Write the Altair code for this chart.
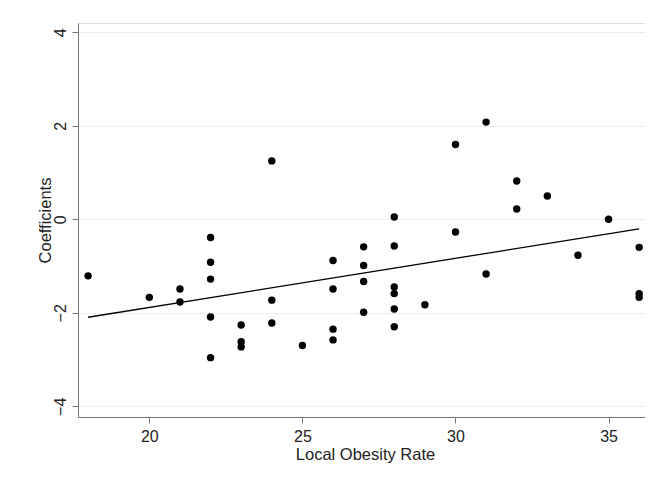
import altair as alt
import pandas as pd

obesity = [18, 20, 21, 21, 22, 22, 22, 22, 22, 23, 23, 23, 24, 24, 24, 25,
           26, 26, 26, 26, 27, 27, 27, 27, 28, 28, 28, 28, 28, 28, 29,
           30, 30, 31, 31, 32, 32, 33, 34, 35, 36, 36, 36]
coef = [-1.21, -1.67, -1.49, -1.77, -0.39, -0.92, -1.28, -2.09, -2.96,
        -2.26, -2.62, -2.73, -1.73, -2.22, 1.25, -2.70,
        -0.88, -1.49, -2.35, -2.58, -0.59, -0.99, -1.33, -1.99,
        0.05, -0.57, -1.45, -1.59, -1.92, -2.30, -1.83,
        -0.27, 1.60, -1.17, 2.08, 0.22, 0.82, 0.50, -0.77, 0.00,
        -0.60, -1.59, -1.67]

df = pd.DataFrame({"x": obesity, "y": coef})

font = "Liberation Sans"

xscale = alt.Scale(domain=[17.67, 36.19], nice=False, zero=False)
yscale = alt.Scale(domain=[-4.23, 4.20], nice=False, zero=False)

xaxis = alt.Axis(values=[20, 25, 30, 35], title="Local Obesity Rate", grid=False,
                 labelFontSize=16, titleFontSize=16.5, labelFont=font, titleFont=font,
                 tickSize=6, labelPadding=5, titlePadding=2,
                 domainColor="#777777", tickColor="#777777",
                 labelColor="#222222", titleColor="#222222", titleFontWeight="normal",
                 titleX=287)
yaxis = alt.Axis(values=[-4, -2, 0, 2, 4], title="Coefficients", grid=True,
                 gridColor="#ececec", gridWidth=1,
                 labelFontSize=16, titleFontSize=16.5, labelFont=font, titleFont=font,
                 labelAngle=270, labelAlign="center", labelBaseline="bottom",
                 tickSize=6, labelPadding=4, titlePadding=-1,
                 domainColor="#777777", tickColor="#777777",
                 labelColor="#222222", titleColor="#222222", titleFontWeight="normal")

points = alt.Chart(df).mark_circle(size=55, color="black", opacity=1).encode(
    x=alt.X("x:Q", scale=xscale, axis=xaxis),
    y=alt.Y("y:Q", scale=yscale, axis=yaxis),
)

line = alt.Chart(df).transform_regression("x", "y", extent=[18, 36]).mark_line(
    color="black", strokeWidth=1.3
).encode(
    x=alt.X("x:Q", scale=xscale),
    y=alt.Y("y:Q", scale=yscale),
)

chart = alt.layer(points, line).properties(
    width=567, height=394,
    autosize=alt.AutoSizeParams(type="none"),
    padding={"left": 70, "top": 15, "right": 0, "bottom": 50},
).configure_view(stroke=None).configure(background="white")

chart.save("out.html", embed_options={"renderer": "svg", "actions": False})
